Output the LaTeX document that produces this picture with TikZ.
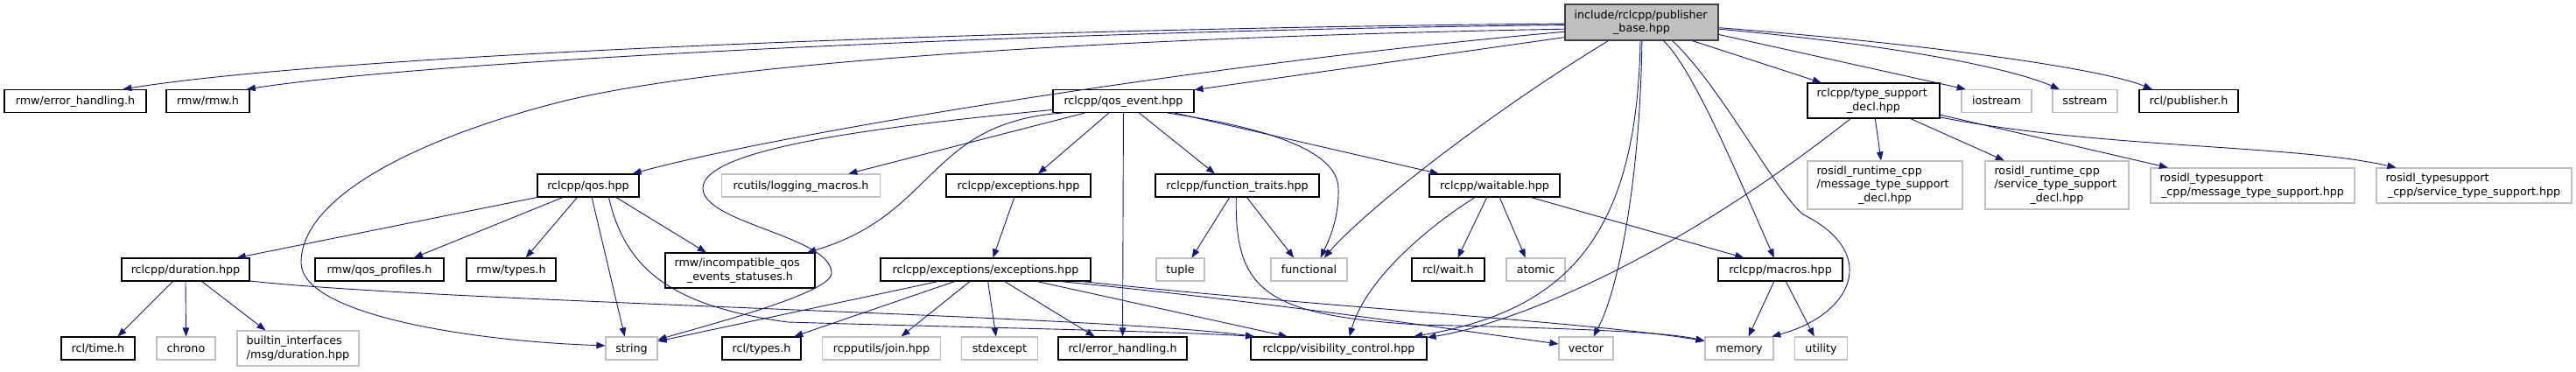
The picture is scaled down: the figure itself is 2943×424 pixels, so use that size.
\documentclass[tikz,border=0pt]{standalone}
\usepackage{fontspec}
\setmainfont{DejaVu Sans}
\usepackage{tikz}
\usetikzlibrary{arrows.meta}
\definecolor{edgeblue}{HTML}{191970}
\definecolor{rootgray}{HTML}{BFBFBF}
\definecolor{rootline}{HTML}{404040}
\definecolor{extgray}{HTML}{BFBFBF}
\newcommand{\gfont}{\fontsize{12.7pt}{15.5pt}\selectfont}

\begin{document}
\begin{tikzpicture}[
    x=1pt, y=-1pt,
    every node/.style={font=\gfont},
    box/.style={rectangle, line width=1.1pt, fill=white, inner ysep=0pt, minimum height=26pt},
    hdr/.style={box, draw=black, minimum width=#1, inner xsep=1pt, text height=11pt, text depth=3pt},
    ext/.style={box, draw=extgray, minimum width=#1, inner xsep=1pt, text height=11pt, text depth=3pt},
    mhdr/.style={box, draw=black, inner xsep=10.5pt},
    mext/.style={box, draw=extgray, inner xsep=10.5pt},
    root/.style={box, draw=rootline, fill=rootgray, inner xsep=10.5pt},
    dep/.style={-{Triangle[length=10pt, width=7.5pt]}, draw=edgeblue, line width=0.9pt},
  ]
    \path[use as bounding box, fill=white] (0,0) rectangle (2943,424);
    % row 1
    \node[root, text width=154pt, minimum height=41pt] (pub) at (1875.5,25.5)
      {\raggedright include/rclcpp/publisher\par\centering \_base.hpp\par};
    % row 2
    \node[hdr=162pt] (rmweh) at (86,115.5) {rmw/error\_handling.h};
    \node[hdr=95pt] (rmwrmw) at (237.5,115.5) {rmw/rmw.h};
    \node[hdr=161pt] (qosev) at (1283.5,115.5) {rclcpp/qos\_event.hpp};
    \node[mhdr, text width=130pt, minimum height=40pt] (tsdecl) at (2140.5,115)
      {\raggedright rclcpp/type\_support\par\centering \_decl.hpp\par};
    \node[ext=80pt] (iostream) at (2281,115.5) {iostream};
    \node[ext=74pt] (sstream) at (2382,115.5) {sstream};
    \node[hdr=113pt] (rclpub) at (2500.5,115.5) {rcl/publisher.h};
    % row 3
    \node[hdr=116pt] (qos) at (672,212) {rclcpp/qos.hpp};
    \node[ext=181pt] (logmac) at (915,212) {rcutils/logging\_macros.h};
    \node[hdr=165pt] (exc) at (1163.5,212) {rclcpp/exceptions.hpp};
    \node[hdr=187pt] (ftraits) at (1413.5,212) {rclcpp/function\_traits.hpp};
    \node[hdr=149pt] (waitable) at (1707.5,212) {rclcpp/waitable.hpp};
    \node[mext, text width=156pt, minimum height=55pt] (msgdecl) at (2153.5,211.5)
      {\raggedright rosidl\_runtime\_cpp\par /message\_type\_support\par\centering \_decl.hpp\par};
    \node[mext, text width=143pt, minimum height=55pt] (srvdecl) at (2350,211.5)
      {\raggedright rosidl\_runtime\_cpp\par /service\_type\_support\par\centering \_decl.hpp\par};
    \node[mext, text width=212pt, minimum height=40pt] (tsmsg) at (2573.5,212)
      {\raggedright rosidl\_typesupport\par\centering \_cpp/message\_type\_support.hpp\par};
    \node[mext, text width=202pt, minimum height=40pt] (tssrv) at (2826.5,212)
      {\raggedright rosidl\_typesupport\par\centering \_cpp/service\_type\_support.hpp\par};
    % row 4
    \node[hdr=146pt] (dur) at (212,308) {rclcpp/duration.hpp};
    \node[hdr=147pt] (qosprof) at (433.5,308) {rmw/qos\_profiles.h};
    \node[hdr=102pt] (rmwtypes) at (584,308) {rmw/types.h};
    \node[mhdr, text width=150pt, minimum height=40pt] (incompat) at (845.5,309)
      {\raggedright rmw/incompatible\_qos\par\centering \_events\_statuses.h\par};
    \node[hdr=240pt] (excexc) at (1126,308) {rclcpp/exceptions/exceptions.hpp};
    \node[ext=55pt] (tuple) at (1348.5,308) {tuple};
    \node[ext=87pt] (functional) at (1495.5,308) {functional};
    \node[hdr=83pt] (rclwait) at (1654.5,308) {rcl/wait.h};
    \node[ext=67pt] (atomic) at (1754.5,308) {atomic};
    \node[hdr=142pt] (macros) at (2034,308) {rclcpp/macros.hpp};
    % row 5
    \node[hdr=84pt] (rcltime) at (112,398) {rcl/time.h};
    \node[ext=67pt] (chrono) at (212.5,398) {chrono};
    \node[mext, text width=118pt, minimum height=40pt] (builtin) at (340.5,398)
      {\raggedright builtin\_interfaces\par\centering /msg/duration.hpp\par};
    \node[ext=59pt] (string) at (721.5,398) {string};
    \node[hdr=90pt] (rcltypes) at (870,398) {rcl/types.h};
    \node[ext=135pt] (join) at (1007,398) {rcpputils/join.hpp};
    \node[ext=87pt] (stdexcept) at (1142,398) {stdexcept};
    \node[hdr=147pt] (rcleh) at (1282.5,398) {rcl/error\_handling.h};
    \node[hdr=201pt] (vis) at (1529.5,398) {rclcpp/visibility\_control.hpp};
    \node[ext=62pt] (vector) at (1812,398) {vector};
    \node[ext=78pt] (memory) at (1987,398) {memory};
    \node[ext=60pt] (utility) at (2080.5,398) {utility};
    % publisher_base.hpp
    \draw[dep] (pub.181) .. controls (1200,32) and (400,60) .. (rmweh.14);
    \draw[dep] (pub.182) .. controls (1200,35) and (500,68) .. (rmwrmw.17);
    \draw[dep] (pub.185) .. controls (1400,40) and (850,63) .. (638,117)
      .. controls (493,154) and (344,220) .. (344,300)
      .. controls (344,360) and (542,390) .. (string.174);
    \draw[dep] (pub.187) .. controls (1400,70) and (900,150) .. (qos.15);
    \draw[dep] (pub.191) -- (qosev.9);
    \draw[dep] (pub.209) .. controls (1700,130) and (1560,240) .. (functional.38);
    \draw[dep] (pub.266) .. controls (1870,270) and (1790,355) .. (vis.9);
    \draw[dep] (pub.271) .. controls (1874,200) and (1850,330) .. (vector.58);
    \draw[dep] (pub.320) .. controls (1935,80) and (1985,200) .. (macros.118);
    \draw[dep] (pub.329) .. controls (1965,97) and (2029,220) .. (2060,245)
      .. controls (2150,290) and (2115,360) .. (memory.20);
    \draw[dep] (pub.340) -- (tsdecl.161);
    \draw[dep] (pub.351) -- (iostream.159);
    \draw[dep] (pub.355) .. controls (2150,50) and (2290,75) .. (sstream.155);
    \draw[dep] (pub.356) .. controls (2200,50) and (2400,78) .. (rclpub.162);
    % qos_event.hpp
    \draw[dep] (qosev.187) .. controls (1000,145) and (803,170) .. (803,215)
      .. controls (803,255) and (950,270) .. (950,312)
      .. controls (950,335) and (809,371) .. (string.18);
    \draw[dep] (qosev.197) -- (logmac.14);
    \draw[dep] (qosev.191) .. controls (1060,140) and (1070,245) .. (incompat.15);
    \draw[dep] (qosev.219) -- (exc.31);
    \draw[dep] (qosev) -- (rcleh);
    \draw[dep] (qosev.323) -- (ftraits.152);
    \draw[dep] (qosev.345) .. controls (1440,145) and (1528,170) .. (1529,215)
      .. controls (1530,250) and (1518,275) .. (functional.46);
    \draw[dep] (qosev.347) -- (waitable.168);
    % qos.hpp
    \draw[dep] (qos.193) -- (dur.13);
    \draw[dep] (qos.205) -- (qosprof.19);
    \draw[dep] (qos.227) -- (rmwtypes.39);
    \draw[dep] (qos.287) -- (string.120);
    \draw[dep] (qos.330) .. controls (715,310) and (770,350) .. (900,368)
      .. controls (1100,374) and (1330,378) .. (vis.172);
    \draw[dep] (qos.337) -- (incompat.152);
    % duration.hpp
    \draw[dep] (dur.223) -- (rcltime.31);
    \draw[dep] (dur.south) -- (chrono.north);
    \draw[dep] (dur.324) -- (builtin.151);
    \draw[dep] (dur.350) .. controls (500,345) and (1250,360) .. (vis.172);
    % exceptions
    \draw[dep] (exc.251) -- (excexc.58);
    \draw[dep] (excexc.194) -- (string.15);
    \draw[dep] (excexc.201) -- (rcltypes.20);
    \draw[dep] (excexc.217) -- (join.31);
    \draw[dep] (excexc.281) -- (stdexcept.107);
    \draw[dep] (excexc.328) -- (rcleh.157);
    \draw[dep] (excexc.347) -- (vis.167);
    \draw[dep] (excexc.351) .. controls (1450,345) and (1650,375) .. (vector.171);
    \draw[dep] (excexc.353) .. controls (1500,350) and (1820,368) .. (memory.168);
    % function_traits.hpp
    \draw[dep] (ftraits.237) -- (tuple.46);
    \draw[dep] (ftraits.309) -- (functional.142);
    \draw[dep] (ftraits.265) .. controls (1410,335) and (1450,360) .. (1620,371)
      .. controls (1750,374) and (1900,378) .. (memory.168);
    % waitable.hpp
    \draw[dep] (waitable.211) .. controls (1630,260) and (1560,320) .. (vis.48);
    \draw[dep] (waitable.237) -- (rclwait.51);
    \draw[dep] (waitable.293) -- (atomic.131);
    \draw[dep] (waitable.342) -- (macros.162);
    % type_support_decl.hpp
    \draw[dep] (tsdecl.218) .. controls (1880,320) and (1700,375) .. (vis.7);
    \draw[dep] (tsdecl.275) -- (msgdecl.99);
    \draw[dep] (tsdecl.334) -- (srvdecl.155);
    \draw[dep] (tsdecl.348) -- (tsmsg.168);
    \draw[dep] (tsdecl.346) .. controls (2400,170) and (2620,165) .. (tssrv.167);
    % macros.hpp
    \draw[dep] (macros.242) -- (memory.52);
    \draw[dep] (macros.295) -- (utility.120);
  \end{tikzpicture}
\end{document}
